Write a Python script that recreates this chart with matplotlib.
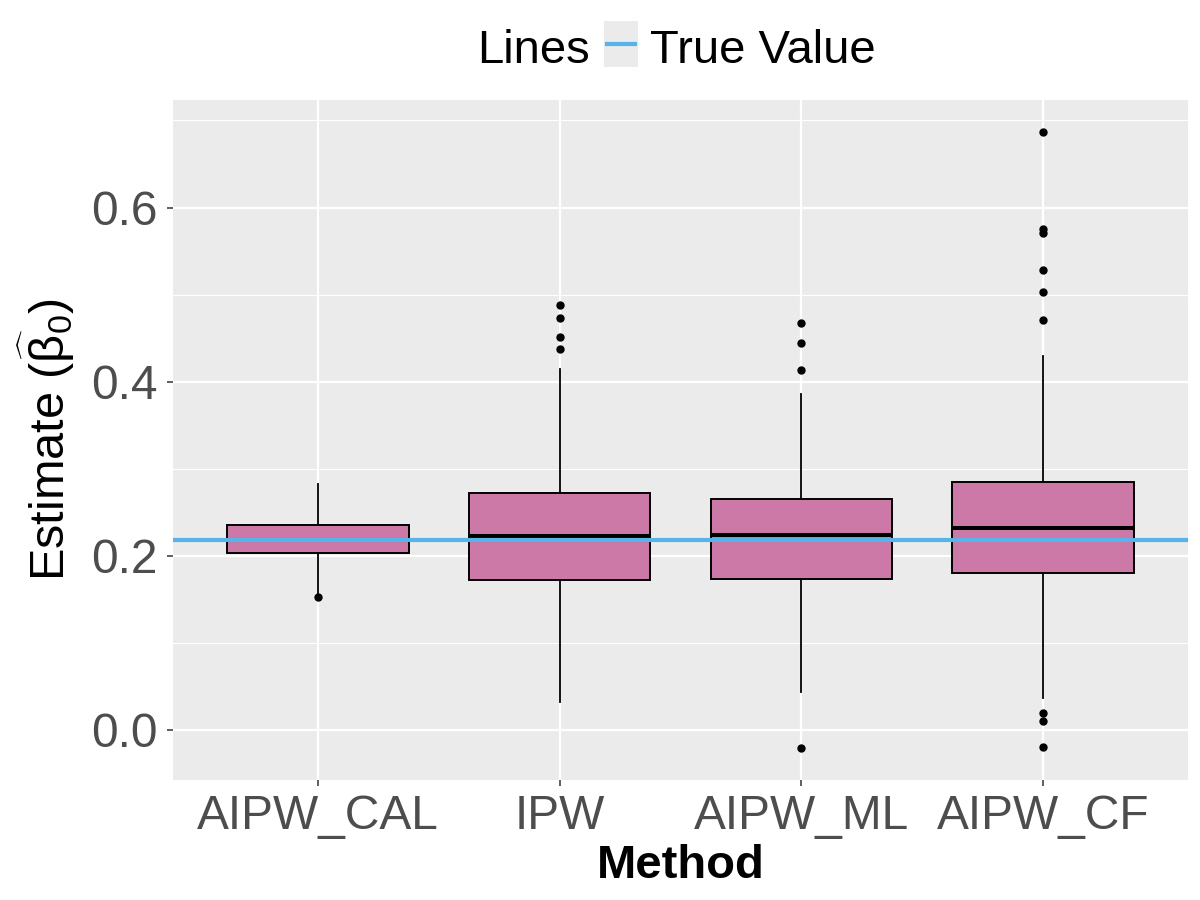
import matplotlib
matplotlib.use("Agg")
import matplotlib.pyplot as plt
from matplotlib.patches import Rectangle
from matplotlib.lines import Line2D

plt.rcParams['font.family'] = ['Liberation Sans', 'DejaVu Sans']
plt.rcParams['mathtext.fontset'] = 'custom'
plt.rcParams['mathtext.rm'] = 'Liberation Sans'
plt.rcParams['mathtext.it'] = 'Liberation Sans:italic'
plt.rcParams['mathtext.bf'] = 'Liberation Sans:bold'

# ---- data ----
methods = ["AIPW_CAL", "IPW", "AIPW_ML", "AIPW_CF"]
q1 = [0.2031, 0.1726, 0.1734, 0.1800]
medians = [0.2185, 0.2230, 0.2237, 0.2317]
q3 = [0.2359, 0.2720, 0.2648, 0.2842]
whisk_lo = [0.156, 0.0325, 0.0434, 0.0362]
whisk_hi = [0.282, 0.4145, 0.3860, 0.4294]
outliers_cal = [0.153]
outliers_ipw = [0.488, 0.4728, 0.451, 0.437]
outliers_ml = [0.4675, 0.444, 0.4138, -0.021]
outliers_cf = [0.6865, 0.5753, 0.5703, 0.5277, 0.5029, 0.4709, 0.0199, 0.0103, -0.0198]
true_value = 0.2183
y_ticks = [0.0, 0.2, 0.4, 0.6]
y_tick_labels = ["0.0", "0.2", "0.4", "0.6"]

outliers = [outliers_cal, outliers_ipw, outliers_ml, outliers_cf]

fill = "#CC79A7"
blue = "#56B4E9"
panel_bg = "#EBEBEB"

fig = plt.figure(figsize=(12, 9), dpi=100)
ax = fig.add_axes([173/1200, 1 - 780/900, (1188 - 173)/1200, (780 - 100)/900])
ax.set_facecolor(panel_bg)

stats = []
for i, m in enumerate(methods):
    stats.append(dict(label=m, q1=q1[i], med=medians[i], q3=q3[i],
                      whislo=whisk_lo[i], whishi=whisk_hi[i], fliers=outliers[i]))

positions = list(range(1, len(methods) + 1))
ax.bxp(stats, positions=positions, widths=0.75, patch_artist=True,
       showcaps=False,
       boxprops=dict(facecolor=fill, edgecolor="black", linewidth=1.4),
       medianprops=dict(color="black", linewidth=2.9),
       whiskerprops=dict(color="black", linewidth=1.3),
       flierprops=dict(marker="o", markerfacecolor="black", markeredgecolor="black",
                       markersize=5, linestyle="none"),
       zorder=3)

ax.axhline(true_value, color=blue, linewidth=3.0, zorder=4)

ax.set_xlim(0.4, 4.6)
ax.set_ylim(-0.0575, 0.7235)
ax.set_yticks(y_ticks)
ax.set_yticklabels(y_tick_labels)
ax.set_yticks([0.1, 0.3, 0.5, 0.7], minor=True)
ax.set_xticks(positions)
ax.set_xticklabels(methods)

ax.grid(which="major", axis="y", color="white", linewidth=1.6, zorder=0)
ax.grid(which="minor", axis="y", color="white", linewidth=0.8, zorder=0)
ax.grid(which="major", axis="x", color="white", linewidth=1.6, zorder=0)
ax.set_axisbelow(True)
for s in ax.spines.values():
    s.set_visible(False)

ax.tick_params(axis="both", which="major", length=4, width=1.1, color="#333333",
               labelsize=34.5, labelcolor="#4D4D4D")
ax.tick_params(axis="y", which="major", pad=7)
ax.tick_params(axis="x", which="major", pad=6)
ax.tick_params(axis="y", which="minor", length=0)

ax.set_xlabel("Method", fontsize=34, fontweight="bold", color="black", labelpad=4)
ax.set_ylabel(r"Estimate ($\widehat{\mathrm{\beta}}_0$)", fontsize=35, color="black", labelpad=10)

# ---- legend at top ----
fig.text(590/1200, 1 - 62.7/900, "Lines", fontsize=34, ha="right", va="baseline", color="black")
fig.patches.append(Rectangle((604/1200, 1 - 67/900), 34/1200, 46/900,
                             transform=fig.transFigure, facecolor=panel_bg,
                             edgecolor="none"))
fig.lines.append(Line2D([607/1200, 635/1200], [1 - 44/900, 1 - 44/900],
                        transform=fig.transFigure, color=blue, linewidth=3.0))
fig.text(650/1200, 1 - 62.7/900, "True Value", fontsize=34, ha="left", va="baseline", color="black")

fig.savefig("out.png", dpi=100, facecolor="white")
